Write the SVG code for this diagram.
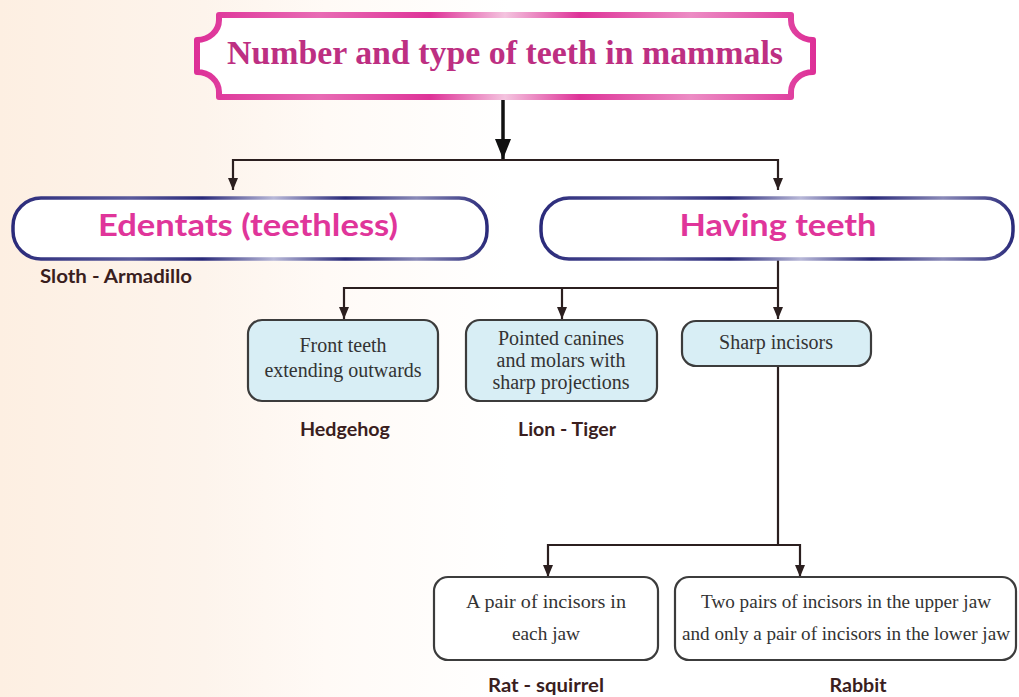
<svg xmlns="http://www.w3.org/2000/svg" width="1019" height="697" viewBox="0 0 1019 697">
  <defs>
    <linearGradient id="bg" x1="0" y1="0" x2="1019" y2="0" gradientUnits="userSpaceOnUse">
      <stop offset="0" stop-color="#fdefe2"/>
      <stop offset="0.2" stop-color="#fdf4ec"/>
      <stop offset="0.32" stop-color="#fffaf6"/>
      <stop offset="0.5" stop-color="#ffffff"/>
      <stop offset="1" stop-color="#ffffff"/>
    </linearGradient>
    <linearGradient id="pinkStroke" x1="195" y1="0" x2="815" y2="0" gradientUnits="userSpaceOnUse">
      <stop offset="0" stop-color="#dd2f97"/>
      <stop offset="0.2" stop-color="#e86bb4"/>
      <stop offset="0.38" stop-color="#de3398"/>
      <stop offset="0.5" stop-color="#f4c4df"/>
      <stop offset="0.62" stop-color="#de3398"/>
      <stop offset="0.8" stop-color="#ec8cc4"/>
      <stop offset="1" stop-color="#dd2f97"/>
    </linearGradient>
    <linearGradient id="navyL" x1="12" y1="0" x2="488" y2="0" gradientUnits="userSpaceOnUse">
      <stop offset="0" stop-color="#2a2a7a"/>
      <stop offset="0.25" stop-color="#5a5a9c"/>
      <stop offset="0.4" stop-color="#2a2a7a"/>
      <stop offset="0.55" stop-color="#b8b8d8"/>
      <stop offset="0.7" stop-color="#2a2a7a"/>
      <stop offset="0.85" stop-color="#8a8ab8"/>
      <stop offset="1" stop-color="#2a2a7a"/>
    </linearGradient>
    <linearGradient id="navyR" x1="540" y1="0" x2="1014" y2="0" gradientUnits="userSpaceOnUse">
      <stop offset="0" stop-color="#2a2a7a"/>
      <stop offset="0.25" stop-color="#5a5a9c"/>
      <stop offset="0.4" stop-color="#2a2a7a"/>
      <stop offset="0.55" stop-color="#b8b8d8"/>
      <stop offset="0.7" stop-color="#2a2a7a"/>
      <stop offset="0.85" stop-color="#8a8ab8"/>
      <stop offset="1" stop-color="#2a2a7a"/>
    </linearGradient>
    <marker id="arr" viewBox="0 0 12 10" refX="12" refY="5" markerWidth="12" markerHeight="10" markerUnits="userSpaceOnUse" orient="auto">
      <path d="M0,0 L12,5 L0,10 Z" fill="#2b1f1f"/>
    </marker>
    <marker id="arrBig" viewBox="0 0 20 16" refX="20" refY="8" markerWidth="20" markerHeight="16" markerUnits="userSpaceOnUse" orient="auto">
      <path d="M0,0 L20,8 L0,16 Z" fill="#111111"/>
    </marker>
  </defs>
  <style>
    .conn { fill: none; stroke: #2b1f1f; stroke-width: 2.2; }
    .main { fill: none; stroke: #111111; stroke-width: 3.5; }
    .cat { fill: #ffffff; stroke-width: 3.5; }
    .cattxt { font-family: Lato, "Open Sans", sans-serif; font-weight: bold; font-size: 30px; fill: #e0359a; text-anchor: middle; }
    .blue { fill: #d8eef5; stroke: #3c3c3c; stroke-width: 2.2; }
    .white { fill: #ffffff; stroke: #3c3c3c; stroke-width: 2.2; }
    .btxt { font-family: "Liberation Serif", "Times New Roman", serif; font-size: 20px; fill: #333333; text-anchor: middle; }
    .stxt { font-family: "Liberation Serif", "Times New Roman", serif; font-size: 18px; fill: #333333; text-anchor: middle; }
    .lbl { font-family: Lato, "Open Sans", sans-serif; font-weight: bold; font-size: 19px; fill: #3a1e1e; text-anchor: middle; }
  </style>

  <rect x="0" y="0" width="1019" height="697" fill="url(#bg)"/>

  <g id="title">
    <path d="M219,15 H791 V20 A22,20 0 0 0 813,40 V72 A22,20 0 0 0 791,92 V97 H219 V92 A22,20 0 0 0 197,72 V40 A22,20 0 0 0 219,20 Z" fill="#ffffff" stroke="url(#pinkStroke)" stroke-width="6" stroke-linejoin="round"/>
    <text x="505" y="64" font-family="'Liberation Serif', 'Times New Roman', serif" font-weight="bold" font-size="34" fill="#bd2f82" text-anchor="middle" textLength="556" lengthAdjust="spacingAndGlyphs">Number and type of teeth in mammals</text>
  </g>

  <g id="connectors">
    <line class="main" x1="503" y1="100" x2="503" y2="159" marker-end="url(#arrBig)"/>
    <path class="conn" d="M503,160 H233 V190" marker-end="url(#arr)"/>
    <path class="conn" d="M503,160 H778 V190" marker-end="url(#arr)"/>
    <path class="conn" d="M778,259 V319" marker-end="url(#arr)"/>
    <path class="conn" d="M778,288 H344 V319" marker-end="url(#arr)"/>
    <path class="conn" d="M562,288 V319" marker-end="url(#arr)"/>
    <path class="conn" d="M778,366 V545 H548 V577" marker-end="url(#arr)"/>
    <path class="conn" d="M778,545 H800 V577" marker-end="url(#arr)"/>
  </g>

  <g id="edentats">
    <rect class="cat" x="13" y="198" width="474" height="61" rx="28" ry="28" stroke="url(#navyL)"/>
    <text class="cattxt" x="248" y="236" textLength="300" lengthAdjust="spacingAndGlyphs">Edentats (teethless)</text>
    <text class="lbl" x="116" y="283" textLength="152" lengthAdjust="spacingAndGlyphs">Sloth - Armadillo</text>
  </g>

  <g id="having-teeth">
    <rect class="cat" x="541" y="198" width="472" height="61" rx="28" ry="28" stroke="url(#navyR)"/>
    <text class="cattxt" x="778" y="236" textLength="197" lengthAdjust="spacingAndGlyphs">Having teeth</text>
  </g>

  <g id="front-teeth">
    <rect class="blue" x="248" y="320" width="190" height="81" rx="14" ry="14"/>
    <text class="btxt" x="343" y="352">Front teeth</text>
    <text class="btxt" x="343" y="377">extending outwards</text>
    <text class="lbl" x="345" y="436" textLength="90" lengthAdjust="spacingAndGlyphs">Hedgehog</text>
  </g>

  <g id="pointed-canines">
    <rect class="blue" x="466" y="320" width="191" height="81" rx="14" ry="14"/>
    <text class="btxt" x="561" y="345">Pointed canines</text>
    <text class="btxt" x="561" y="367">and molars with</text>
    <text class="btxt" x="561" y="389">sharp projections</text>
    <text class="lbl" x="567" y="436" textLength="98" lengthAdjust="spacingAndGlyphs">Lion - Tiger</text>
  </g>

  <g id="sharp-incisors">
    <rect class="blue" x="682" y="321" width="189" height="45" rx="14" ry="14"/>
    <text class="btxt" x="776" y="349">Sharp incisors</text>
  </g>

  <g id="pair-incisors">
    <rect class="white" x="434" y="577" width="224" height="83" rx="14" ry="14"/>
    <text class="stxt" x="546" y="608" textLength="160" lengthAdjust="spacingAndGlyphs">A pair of incisors in</text>
    <text class="stxt" x="546" y="640" textLength="68" lengthAdjust="spacingAndGlyphs">each jaw</text>
    <text class="lbl" x="546" y="692" textLength="116" lengthAdjust="spacingAndGlyphs">Rat - squirrel</text>
  </g>

  <g id="two-pairs">
    <rect class="white" x="675" y="577" width="341" height="83" rx="14" ry="14"/>
    <text class="stxt" x="846" y="608" textLength="290" lengthAdjust="spacingAndGlyphs">Two pairs of incisors in the upper jaw</text>
    <text class="stxt" x="846" y="640" textLength="328" lengthAdjust="spacingAndGlyphs">and only a pair of incisors in the lower jaw</text>
    <text class="lbl" x="858" y="692" textLength="57" lengthAdjust="spacingAndGlyphs">Rabbit</text>
  </g>
</svg>
